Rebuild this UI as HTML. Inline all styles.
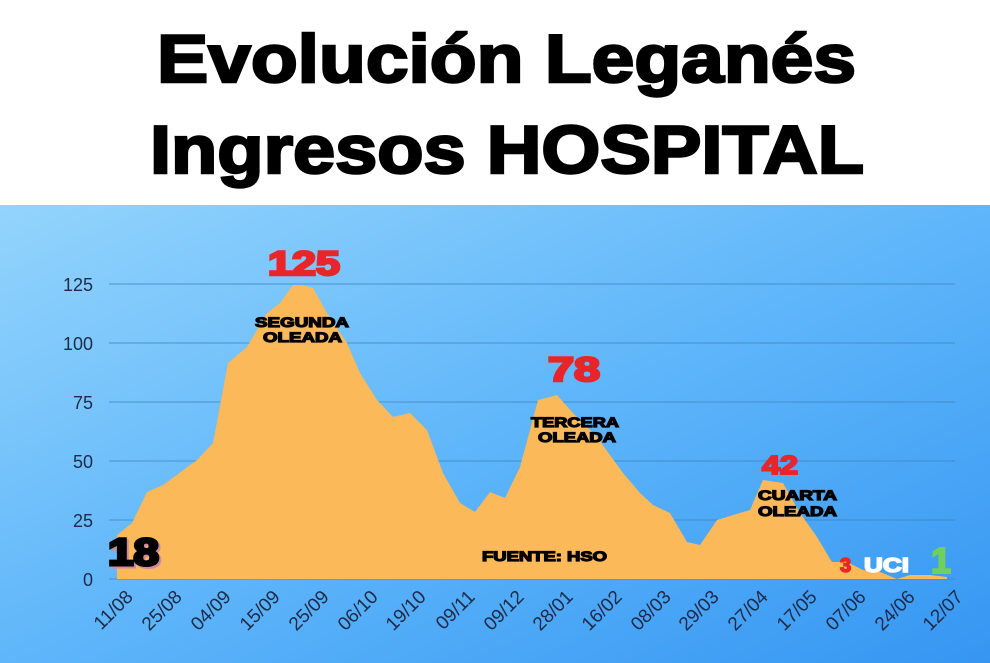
<!DOCTYPE html>
<html><head><meta charset="utf-8"><style>
html,body{margin:0;padding:0;width:990px;height:663px;overflow:hidden;background:#fff}
svg{display:block}
</style></head><body>
<svg width="990" height="663" viewBox="0 0 990 663" xmlns="http://www.w3.org/2000/svg">
<defs>
<linearGradient id="bg" x1="0" y1="0" x2="1" y2="1">
<stop offset="0" stop-color="#93d4fc"/>
<stop offset="0.5" stop-color="#5fb6fa"/>
<stop offset="1" stop-color="#3596f2"/>
</linearGradient>
</defs>
<rect x="0" y="0" width="990" height="205" fill="#fff"/>
<rect x="0" y="205" width="990" height="458" fill="url(#bg)"/>
<g font-family="'Liberation Sans',sans-serif" font-weight="bold" fill="#000" stroke="#000" stroke-width="2.5" font-size="68">
<text x="157" y="82" textLength="699" lengthAdjust="spacingAndGlyphs">Evolución Leganés</text>
<text x="150" y="173" textLength="714" lengthAdjust="spacingAndGlyphs">Ingresos HOSPITAL</text>
</g>
<g stroke="#3f86c0" stroke-width="1" opacity="0.8">
<line x1="109" y1="284" x2="955" y2="284"/>
<line x1="109" y1="343" x2="955" y2="343"/>
<line x1="109" y1="402" x2="955" y2="402"/>
<line x1="109" y1="461" x2="955" y2="461"/>
<line x1="109" y1="520" x2="955" y2="520"/>
<line x1="109" y1="579" x2="955" y2="579"/>
</g>
<polygon fill="#fbb95a" points="117,579 117,535 132,523 147,492 163,485 197,460 213,443 228,363 247,347 267,313 280,303 293,285 302,285 313,288 327,313 347,343 360,373 377,400 393,417 410,413 427,430 443,473 460,503 475,512 490,492 505,498 520,467 538,400 557,395 572,412 597,437 623,473 640,493 653,505 670,513 687,542 700,545 717,520 733,515 750,510 763,480 783,483 800,513 817,537 832,562 847,562 863,570 880,572 897,579 910,575 930,575 947,577 947,579"/>
<g font-family="'Liberation Sans',sans-serif" font-size="18" fill="#1f2a48" text-anchor="end">
<text x="93" y="291">125</text>
<text x="93" y="350">100</text>
<text x="93" y="409">75</text>
<text x="93" y="468">50</text>
<text x="93" y="527">25</text>
<text x="93" y="586">0</text>
</g>
<g font-family="'Liberation Sans',sans-serif" font-size="19" fill="#1f2a48" text-anchor="end">
<text transform="translate(134,598) rotate(-45)">11/08</text>
<text transform="translate(183,598) rotate(-45)">25/08</text>
<text transform="translate(232,598) rotate(-45)">04/09</text>
<text transform="translate(281,598) rotate(-45)">15/09</text>
<text transform="translate(330,598) rotate(-45)">25/09</text>
<text transform="translate(379,598) rotate(-45)">06/10</text>
<text transform="translate(427,598) rotate(-45)">19/10</text>
<text transform="translate(476,598) rotate(-45)">09/11</text>
<text transform="translate(525,598) rotate(-45)">09/12</text>
<text transform="translate(574,598) rotate(-45)">28/01</text>
<text transform="translate(623,598) rotate(-45)">16/02</text>
<text transform="translate(672,598) rotate(-45)">08/03</text>
<text transform="translate(720,598) rotate(-45)">29/03</text>
<text transform="translate(769,598) rotate(-45)">27/04</text>
<text transform="translate(818,598) rotate(-45)">17/05</text>
<text transform="translate(867,598) rotate(-45)">07/06</text>
<text transform="translate(916,598) rotate(-45)">24/06</text>
<text transform="translate(964,598) rotate(-45)">12/07</text>
</g>
<g font-family="'Liberation Sans',sans-serif" font-weight="900">
<text x="268" y="275" font-size="34" fill="#e8262a" stroke="#e8262a" stroke-width="2.5" textLength="72" lengthAdjust="spacingAndGlyphs">125</text>
<text x="548" y="381" font-size="34" fill="#e8262a" stroke="#e8262a" stroke-width="2.5" textLength="52" lengthAdjust="spacingAndGlyphs">78</text>
<text x="762" y="474" font-size="26" fill="#e8262a" stroke="#e8262a" stroke-width="2" textLength="36" lengthAdjust="spacingAndGlyphs">42</text>
<text x="840" y="572" font-size="20" fill="#e8262a" stroke="#e8262a" stroke-width="1.5">3</text>
<text x="864" y="572" font-size="20" fill="#fff" stroke="#fff" stroke-width="1.5" textLength="45" lengthAdjust="spacingAndGlyphs">UCI</text>
<text x="931" y="573" font-size="36" fill="#6fd05a" stroke="#6fd05a" stroke-width="2">1</text>
<text x="110" y="567" font-size="38" fill="#d08aa0" stroke="#d08aa0" stroke-width="3" textLength="51" lengthAdjust="spacingAndGlyphs">18</text>
<text x="108" y="565" font-size="38" fill="#000" stroke="#000" stroke-width="3" textLength="51" lengthAdjust="spacingAndGlyphs">18</text>
<g font-size="14" fill="#000" stroke="#000" stroke-width="1.2" lengthAdjust="spacingAndGlyphs">
<text x="255" y="327" textLength="94" lengthAdjust="spacingAndGlyphs">SEGUNDA</text>
<text x="263" y="342" textLength="79" lengthAdjust="spacingAndGlyphs">OLEADA</text>
<text x="531" y="427" textLength="88" lengthAdjust="spacingAndGlyphs">TERCERA</text>
<text x="538" y="442" textLength="78" lengthAdjust="spacingAndGlyphs">OLEADA</text>
<text x="758" y="500" textLength="79" lengthAdjust="spacingAndGlyphs">CUARTA</text>
<text x="758" y="516" textLength="79" lengthAdjust="spacingAndGlyphs">OLEADA</text>
<text x="482" y="561" textLength="125" lengthAdjust="spacingAndGlyphs">FUENTE: HSO</text>
</g>
</g>
</svg>
</body></html>
